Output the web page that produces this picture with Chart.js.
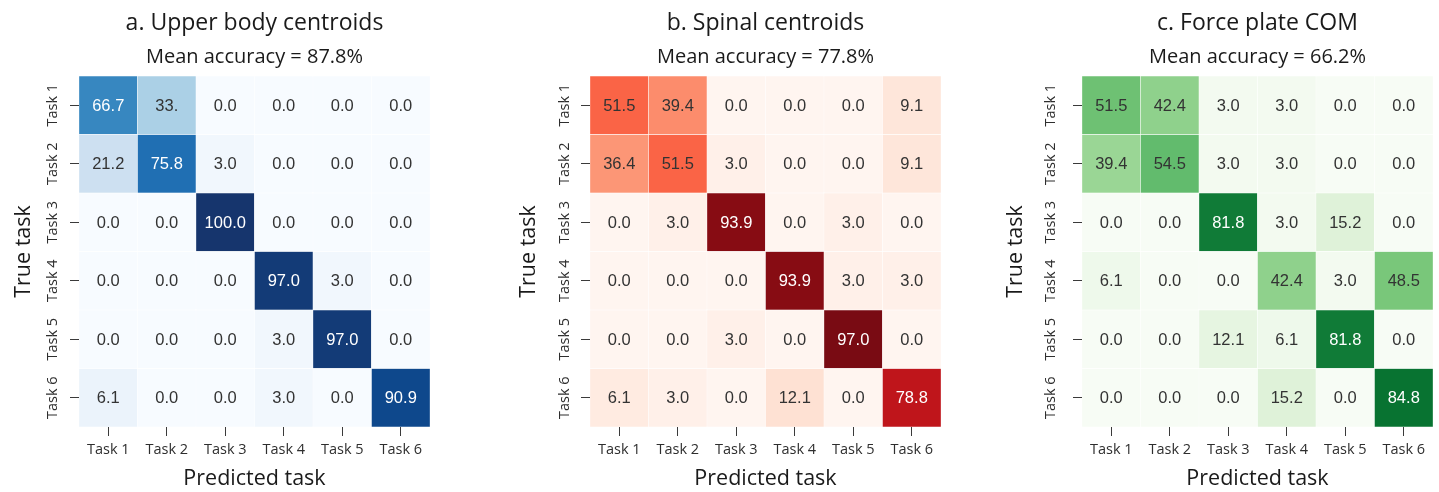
<!DOCTYPE html>
<html>
<head>
<meta charset="utf-8">
<script src="https://cdn.jsdelivr.net/npm/chart.js@4.4.1/dist/chart.umd.min.js"></script>
<style>
  html, body { margin: 0; padding: 0; background: #ffffff; }
  #wrap { position: relative; width: 1439px; height: 492px; overflow: hidden; }
  canvas { position: absolute; top: 0; }
</style>
</head>
<body>
<div id="wrap">
  <canvas id="panelA" width="480" height="492" style="left:0px"></canvas>
  <canvas id="panelB" width="480" height="492" style="left:480px"></canvas>
  <canvas id="panelC" width="479" height="492" style="left:960px"></canvas>
</div>
<script>
// Task labels shared by both axes
const tasks = ['Task 1', 'Task 2', 'Task 3', 'Task 4', 'Task 5', 'Task 6'];

// Confusion matrices (%), rows = true task, columns = predicted task
const upperBody = [
  [66.7, 33.3, 0.0, 0.0, 0.0, 0.0],
  [21.2, 75.8, 3.0, 0.0, 0.0, 0.0],
  [0.0, 0.0, 100.0, 0.0, 0.0, 0.0],
  [0.0, 0.0, 0.0, 97.0, 3.0, 0.0],
  [0.0, 0.0, 0.0, 3.0, 97.0, 0.0],
  [6.1, 0.0, 0.0, 3.0, 0.0, 90.9]
];
const spinal = [
  [51.5, 39.4, 0.0, 0.0, 0.0, 9.1],
  [36.4, 51.5, 3.0, 0.0, 0.0, 9.1],
  [0.0, 3.0, 93.9, 0.0, 3.0, 0.0],
  [0.0, 0.0, 0.0, 93.9, 3.0, 3.0],
  [0.0, 0.0, 3.0, 0.0, 97.0, 0.0],
  [6.1, 3.0, 0.0, 12.1, 0.0, 78.8]
];
const forcePlate = [
  [51.5, 42.4, 3.0, 3.0, 0.0, 0.0],
  [39.4, 54.5, 3.0, 3.0, 0.0, 0.0],
  [0.0, 0.0, 81.8, 3.0, 15.2, 0.0],
  [6.1, 0.0, 0.0, 42.4, 3.0, 48.5],
  [0.0, 0.0, 12.1, 6.1, 81.8, 0.0],
  [0.0, 0.0, 0.0, 15.2, 0.0, 84.8]
];

// Panel headings
const titles = ['a. Upper body centroids', 'b. Spinal centroids', 'c. Force plate COM'];
const subtitles = ['Mean accuracy = 87.8%', 'Mean accuracy = 77.8%', 'Mean accuracy = 66.2%'];

// Sequential colour ramps (ColorBrewer 9-class)
const BLUES  = ['#f7fbff','#deebf7','#c6dbef','#9ecae1','#6baed6','#4292c6','#2171b5','#0b4f98','#16356d'];
const REDS   = ['#fff5f0','#fee0d2','#fcbba1','#fc9272','#fb6a4a','#ef3b2c','#cb181d','#a50f15','#6b0a12'];
const GREENS = ['#f7fcf5','#e5f5e0','#c7e9c0','#a1d99b','#74c476','#41ab5d','#238b45','#006d2c','#00441b'];

function hexToRgb(h) {
  const n = parseInt(h.slice(1), 16);
  return [(n >> 16) & 255, (n >> 8) & 255, n & 255];
}
function ramp(stops, v, vmax) {
  const t = Math.max(0, Math.min(1, v / vmax)) * (stops.length - 1);
  const i = Math.min(Math.floor(t), stops.length - 2);
  const f = t - i;
  const a = hexToRgb(stops[i]), b = hexToRgb(stops[i + 1]);
  const c = a.map((x, k) => Math.round(x + (b[k] - x) * f));
  return `rgb(${c[0]},${c[1]},${c[2]})`;
}

const SANS = "'Open Sans', 'Noto Sans', sans-serif";
const NUM = "'Liberation Sans', Arial, sans-serif";

// Headings centred over the heatmap area
const headingPlugin = {
  id: 'heading',
  afterDraw(chart, args, opts) {
    const { ctx, chartArea } = chart;
    const cx = (chartArea.left + chartArea.right) / 2;
    ctx.save();
    ctx.textAlign = 'center';
    ctx.textBaseline = 'middle';
    ctx.fillStyle = '#1a1a1a';
    ctx.font = `23px ${SANS}`;
    ctx.fillText(opts.title, cx, 23);
    ctx.font = `20px ${SANS}`;
    ctx.fillText(opts.subtitle, cx, 57);
    ctx.restore();
  }
};

// Percentage written in the middle of each cell
const cellTextPlugin = {
  id: 'cellText',
  afterDatasetsDraw(chart, args, opts) {
    const { ctx } = chart;
    const meta = chart.getDatasetMeta(0);
    const data = chart.data.datasets[0].data;
    ctx.save();
    ctx.textAlign = 'center';
    ctx.textBaseline = 'middle';
    ctx.font = `16.5px ${NUM}`;
    meta.data.forEach((bar, i) => {
      const d = data[i];
      const text = (opts.overrides && opts.overrides[d.r + ',' + d.c]) || d.v.toFixed(1);
      ctx.fillStyle = d.v >= 60 ? '#ffffff' : '#333333';
      ctx.fillText(text, bar.x, (bar.y + bar.base) / 2 + 1);
    });
    ctx.restore();
  }
};

function makeHeatmap(id, matrix, stops, idx, layout) {
  const cells = [];
  matrix.forEach((row, r) => row.forEach((v, c) => {
    cells.push({ x: tasks[c], y: [r, r + 1], v: v, r: r, c: c });
  }));
  return new Chart(document.getElementById(id), {
    type: 'bar',
    data: {
      labels: tasks,
      datasets: [{
        data: cells,
        backgroundColor: ctx => ramp(stops, ctx.raw.v, 100),
        borderColor: 'rgba(255,255,255,0.85)',
        borderWidth: 0.5,
        borderSkipped: false,
        barPercentage: 1,
        categoryPercentage: 1
      }]
    },
    options: {
      responsive: false,
      animation: false,
      layout: { padding: { top: 76, right: layout.right, left: 0, bottom: 0 } },
      plugins: {
        legend: { display: false },
        tooltip: { enabled: false },
        heading: { title: titles[idx], subtitle: subtitles[idx] },
        cellText: { overrides: layout.overrides }
      },
      scales: {
        x: {
          type: 'category',
          afterFit: s => { s.height = 65; },
          grid: { offset: false, drawOnChartArea: false, tickLength: 9, color: '#3a3a3a', lineWidth: 1 },
          border: { display: false },
          ticks: { color: '#2e2e2e', font: { family: SANS, size: 14.5 }, padding: 5 },
          title: { display: true, text: 'Predicted task', color: '#1a1a1a',
                   font: { family: SANS, size: 21.5 }, padding: { top: 0, bottom: 0 } }
        },
        y: {
          type: 'linear',
          min: 0, max: 6, reverse: true,
          afterFit: s => { s.width = layout.yWidth; },
          afterBuildTicks: s => { s.ticks = tasks.map((t, i) => ({ value: i + 0.5 })); },
          grid: { drawOnChartArea: false, tickLength: 9, color: '#3a3a3a', lineWidth: 1 },
          border: { display: false },
          ticks: {
            color: '#2e2e2e', font: { family: SANS, size: 14.5 },
            minRotation: 90, maxRotation: 90, crossAlign: 'center', padding: layout.tickPad,
            callback: (val) => tasks[Math.floor(val)]
          },
          title: { display: true, text: 'True task', color: '#1a1a1a',
                   font: { family: SANS, size: 21.5 }, padding: { top: layout.titlePad, bottom: 0 } }
        }
      }
    },
    plugins: [headingPlugin, cellTextPlugin]
  });
}

makeHeatmap('panelA', upperBody, BLUES, 0, { yWidth: 79, right: 50, tickPad: -4, titlePad: 11, overrides: { '0,1': '33.' } });
makeHeatmap('panelB', spinal, REDS, 1, { yWidth: 110, right: 19, tickPad: -5, titlePad: 36 });
makeHeatmap('panelC', forcePlate, GREENS, 2, { yWidth: 122, right: 6, tickPad: 1, titlePad: 43 });
</script>
</body>
</html>
